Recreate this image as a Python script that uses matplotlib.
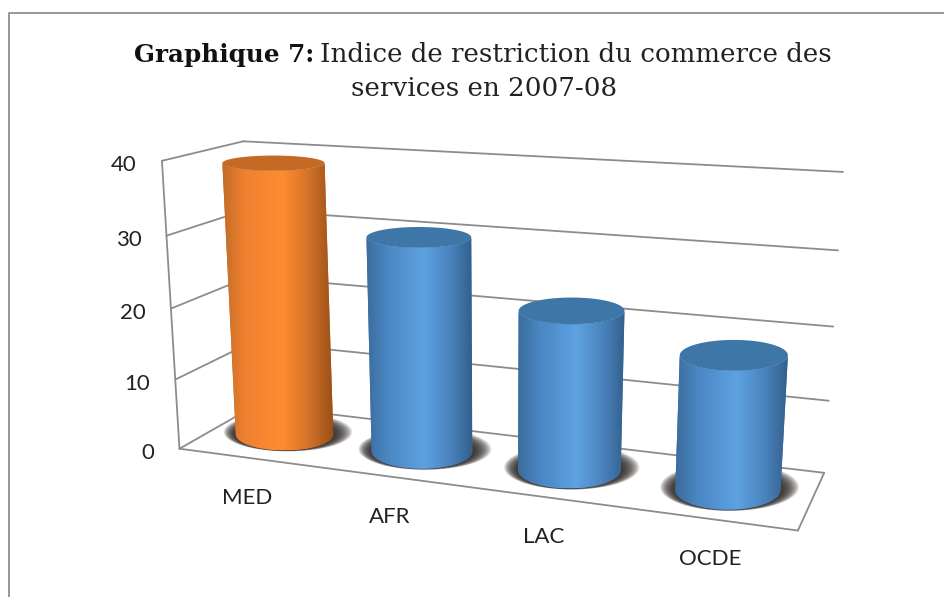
import numpy as np
import matplotlib
matplotlib.use('Agg')
import matplotlib.pyplot as plt
from matplotlib.colors import to_rgb

# data
categories = ['MED', 'AFR', 'LAC', 'OCDE']
values = [38.8, 30, 21.8, 17.9]
bar_colors = ['orange', 'blue', 'blue', 'blue']
y_ticks = [0, 10, 20, 30, 40]

title_bold = 'Graphique 7:'
title_rest = 'Indice de restriction du commerce des'
title_line2 = 'services en 2007-08'

# shading across a cylinder, left edge to right edge
shade_pos = [0, 0.2, 0.55, 0.8, 1]
shades = {
    'orange': ['#c26c28', '#ee8030', '#ff8c30', '#d07028', '#9a5018'],
    'blue': ['#3b6c9c', '#4a86c2', '#5ea2e2', '#4a82bc', '#33608c'],
}
top_colors = {'orange': '#c46a25', 'blue': '#3f76a8'}

grid_color = '#8c8c8c'

# (category pos, depth, value) -> pixel, points read from the box corners
anchors = [
    (0, 0, 0, 179, 448), (0, 1, 0, 256, 406), (4, 0, 0, 798, 531), (4, 1, 0, 824, 472),
    (0, 0, 10, 175, 380), (0, 0, 20, 171, 308), (0, 0, 30, 167, 236), (0, 0, 40, 162, 161),
    (0, 1, 40, 243, 141), (4, 1, 40, 843, 172), (4, 1, 30, 838, 250), (4, 1, 20, 833, 327),
    (4, 1, 10, 829, 401),
]
A, b = [], []
for x, d, z, px, py in anchors:
    A.append([x, d, z, 1, 0, 0, 0, 0, -px * x, -px * d, -px * z])
    A.append([0, 0, 0, 0, x, d, z, 1, -py * x, -py * d, -py * z])
    b += [px, py]
coef = np.linalg.lstsq(np.array(A, float), np.array(b, float), rcond=None)[0]
P = np.append(coef, 1).reshape(3, 4)


def proj(x, d, z):
    out = P @ np.array([x, d, z, 1.0])
    return out[0] / out[2], out[1] / out[2]


def seg(ax, a, b):
    xa, ya = proj(*a)
    xb, yb = proj(*b)
    ax.plot([xa, xb], [ya, yb], color=grid_color, lw=1.3, solid_capstyle='round', zorder=1)


radii = [0.367, 0.354, 0.336, 0.32]  # cylinder widths, left ones are squeezed by the projection
rd = 0.36


def disc(i, z, angles, grow_x=1.0, grow_y=1.0, shift=0.0):
    # flat ellipse of a cylinder at height z, kept level on the page
    cx = i + 0.5
    x0, y0 = proj(cx, 0.5 + shift, z)
    half_w = (proj(cx + radii[i], 0.5, z)[0] - proj(cx - radii[i], 0.5, z)[0]) / 2
    half_h = (proj(cx, 0.5 - rd, z)[1] - proj(cx, 0.5 + rd, z)[1]) / 2
    return x0 + grow_x * half_w * np.cos(angles), y0 - grow_y * half_h * np.sin(angles)


fig = plt.figure(figsize=(9.44, 5.97), dpi=100)
ax = fig.add_axes([0, 0, 1, 1])
ax.axis('off')

# outer frame
ax.plot([9, 9, 944], [597, 13, 13], color='#8f8f8f', lw=1.3, zorder=1)

# walls and floor
for t in y_ticks:
    seg(ax, (0, 0, t), (0, 1, t))
    seg(ax, (0, 1, t), (4, 1, t))
    xt, yt = proj(0, 0, t)
    ax.text(xt - 25, yt + 4, str(t), ha='right', va='center', fontsize=16, family='Lato', color='#222222')
seg(ax, (0, 0, 0), (0, 0, 40))
seg(ax, (0, 0, 0), (4, 0, 0))
seg(ax, (4, 0, 0), (4, 1, 0))

theta = np.linspace(0, 2 * np.pi, 181)
front = np.linspace(np.pi, 2 * np.pi, 91)

for i, (name, val, col) in enumerate(zip(categories, values, bar_colors)):
    # soft shadow on the floor
    for t in np.linspace(1, 0, 26):
        sx, sy = disc(i, 0, theta, 1 + 0.32 * t, 1 + 0.2 * t, 0.05 * t)
        ax.fill(sx, sy, color='#2e2826', alpha=0.085, lw=0, zorder=2)

    bx, by = disc(i, 0, front)
    fx, fy = disc(i, val, front)
    tx, ty = disc(i, val, theta)
    xmin = min(bx.min(), tx.min())
    xmax = max(bx.max(), tx.max())

    # side of the cylinder: a horizontal gradient clipped to its outline
    stops = np.array([to_rgb(c) for c in shades[col]])
    u = np.linspace(0, 1, 200)
    grad = np.stack([np.interp(u, shade_pos, stops[:, c]) for c in range(3)], axis=1)[None, :, :]
    patch = ax.fill(np.concatenate([bx, fx[::-1]]), np.concatenate([by, fy[::-1]]),
                    color=top_colors[col], lw=0, zorder=3)[0]
    im = ax.imshow(grad, extent=[xmin, xmax, by.max(), ty.min()], aspect='auto', zorder=3.5)
    im.set_clip_path(patch)
    ax.fill(tx, ty, color=top_colors[col], lw=0, zorder=4)

    lx, ly = proj(i + 0.5, 0, 0)
    ax.text(lx, ly + 40, name, ha='center', va='center', fontsize=16, family='Lato', color='#222222')

ax.set_xlim(0, 944)
ax.set_ylim(597, 0)

# title, bold part then regular part on one line
ax.text(134, 55, title_bold, ha='left', va='center', fontsize=17.7, family='DejaVu Serif', fontweight='bold', color='#111111')
ax.text(320, 55, title_rest, ha='left', va='center', fontsize=18.8, family='DejaVu Serif', color='#222222')
ax.text(484, 89, title_line2, ha='center', va='center', fontsize=18.8, family='DejaVu Serif', color='#222222')

fig.savefig('out.png', dpi=100)
